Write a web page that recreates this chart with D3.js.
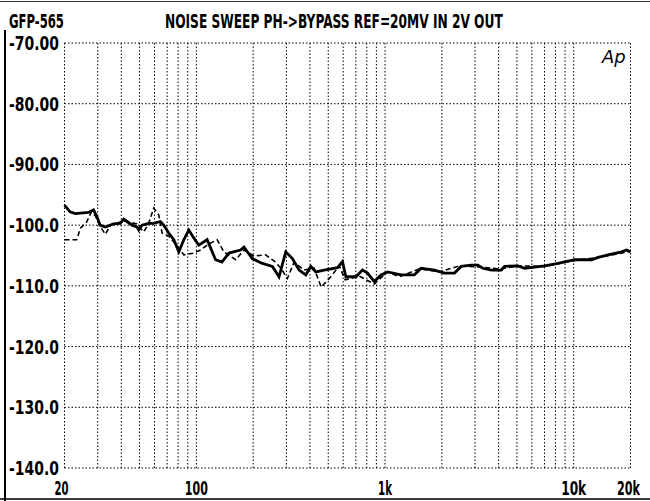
<!DOCTYPE html>
<html>
<head>
<meta charset="utf-8">
<script src="https://cdn.jsdelivr.net/npm/d3@7"></script>
<style>
  html, body { margin: 0; padding: 0; background: #fff; }
  svg { display: block; }
  .lbl { font-family: "DejaVu Sans Condensed", "Liberation Sans Narrow", sans-serif; font-weight: bold; fill: #000; }
</style>
</head>
<body>
<svg id="chart" width="650" height="501"></svg>
<script>
// ---- data ----
const chartId = "GFP-565";
const chartTitle = "NOISE SWEEP PH->BYPASS REF=20MV IN 2V OUT";
const yTickValues = [-70, -80, -90, -100, -110, -120, -130, -140];
const yTickLabels = ["-70.00", "-80.00", "-90.00", "-100.0", "-110.0", "-120.0", "-130.0", "-140.0"];
const xTickValues = [20, 100, 1000, 10000, 20000];
const xTickLabels = ["20", "100", "1k", "10k", "20k"];
const gridFreqs = [20, 30, 40, 50, 60, 70, 80, 90, 100, 200, 300, 400, 500, 600, 700, 800, 900,
                   1000, 2000, 3000, 4000, 5000, 6000, 7000, 8000, 9000, 10000, 20000];

// solid trace (Hz, dB)
const freqSolid = [20, 21.4, 22.8, 26.8, 28.5, 29.7, 30.9, 32.9, 36.4, 39.5, 41.2, 42.9, 45.6, 48.4, 49.5,
  51.5, 55.9, 59.4, 64.5, 67.1, 71.4, 75.9, 80.7, 85.8, 91.2, 96.9, 103, 114, 126.4, 136.6, 148.7,
  171.7, 178.7, 197.8, 223.6, 252.8, 274.2, 297.7, 322.8, 350.4, 380.2, 404.2, 429.7, 475.7, 559.8,
  594.8, 620.2, 701, 759.6, 808, 877, 952, 1032, 1215, 1430, 1552, 1826, 2064, 2334, 2532, 2862,
  3102, 3298, 3656, 4132, 4302, 5062, 5496, 6210, 7020, 8258, 10132, 12428, 13470, 15226, 17940,
  19070, 20000];
const dbSolid = [-96.7, -97.8, -98.1, -97.9, -97.5, -98.6, -100.0, -100.3, -99.8, -99.7, -99.0, -99.4, -100.0, -100.3, -100.8,
  -100.0, -99.7, -99.7, -99.4, -100.0, -101.3, -102.4, -104.4, -102.4, -100.8, -102.1, -103.3, -102.4, -105.7, -106.1, -104.6,
  -104.1, -103.6, -105.5, -106.3, -106.8, -108.5, -104.4, -105.5, -107.4, -108.2, -106.8, -107.7, -107.4, -107.0,
  -106.0, -108.5, -108.5, -107.4, -107.9, -109.3, -108.2, -107.7, -108.2, -108.2, -107.1, -107.4, -107.9, -107.9, -106.8, -106.6,
  -106.6, -107.1, -107.4, -107.4, -106.8, -106.7, -107.1, -106.9, -106.7, -106.3, -105.7, -105.7, -105.3, -104.9, -104.4,
  -104.1, -104.4];

// dashed trace (Hz, dB)
const freqDashed = [20, 23.2, 24.3, 26.2, 27.8, 29.2, 30.9, 32.9, 35.1, 41.2, 48.3, 52.6, 55.9, 59.4, 63.2,
  65.8, 71.4, 78.7, 85.8, 96.9, 105.2, 116.4, 128.9, 139.9, 161.5, 178.7, 202, 233, 258, 281, 303.5,
  329.6, 372.4, 420.9, 458.6, 516.3, 571.5, 614.8, 730, 877, 1030, 1191, 1521, 1942, 2480, 3170,
  4046, 5168, 7020, 10132, 13750, 20000];
const dbDashed = [-102.4, -102.4, -100.5, -99.5, -97.8, -98.5, -100.2, -101.5, -100.0, -99.3, -99.8, -101.1, -99.7, -97.2, -98.3,
  -101.3, -101.8, -103.3, -104.9, -104.6, -104.1, -103.1, -102.4, -104.4, -105.7, -104.1, -105.1, -104.9, -105.9, -107.1, -108.8,
  -106.1, -107.4, -107.1, -110.2, -108.5, -106.7, -109.0, -108.4, -109.7, -107.7, -108.5, -107.2, -107.7, -106.7, -106.9,
  -107.2, -106.7, -106.8, -105.8, -105.3, -104.3];

// ---- layout ----
const svg = d3.select("#chart");
const plotL = 64.5, plotR = 630.5, plotT = 43, plotB = 468;
const x = d3.scaleLog().domain([20, 20000]).range([plotL, plotR]);
const y = d3.scaleLinear().domain([-70, -140]).range([plotT, plotB]);

// draws a text starting at x0 (left edge), squeezed horizontally to width w
function fitText(parent, str, x0, yBase, w, size) {
  const t = parent.append("text").attr("class", "lbl")
    .attr("x", 0).attr("y", 0).attr("font-size", size).text(str);
  const natural = t.node().getComputedTextLength() || w;
  const sx = w / natural;
  t.attr("transform", `translate(${x0},${yBase}) scale(${sx},1)`);
  return t;
}

// scan frame
svg.append("line").attr("x1", 0).attr("x2", 650).attr("y1", 1.5).attr("y2", 1.5)
  .attr("stroke", "#333").attr("stroke-width", 1);
svg.append("line").attr("x1", 5).attr("x2", 5).attr("y1", 30).attr("y2", 501)
  .attr("stroke", "#000").attr("stroke-width", 2);
svg.append("line").attr("x1", 0).attr("x2", 650).attr("y1", 499).attr("y2", 499)
  .attr("stroke", "#000").attr("stroke-width", 1.5);

// grid
const grid = svg.append("g");
grid.selectAll("line.v").data(gridFreqs).enter().append("line")
  .attr("class", "v")
  .attr("x1", d => x(d)).attr("x2", d => x(d))
  .attr("y1", plotT).attr("y2", plotB)
  .attr("stroke", "#000").attr("stroke-width", 1)
  .attr("stroke-dasharray", "1.5,2");
grid.selectAll("line.h").data(yTickValues).enter().append("line")
  .attr("class", "h")
  .attr("x1", plotL).attr("x2", plotR)
  .attr("y1", d => y(d)).attr("y2", d => y(d))
  .attr("stroke", "#000").attr("stroke-width", 1)
  .attr("stroke-dasharray", "1.5,2");

// y labels
const yAxisG = svg.append("g");
yTickValues.forEach((v, i) => fitText(yAxisG, yTickLabels[i], 9, y(v) + 7, 50, 19));

// x labels
const xLabelWidths = [14, 23, 14, 25, 23];
const xAxisG = svg.append("g");
xTickValues.forEach((v, i) => {
  const w = xLabelWidths[i];
  const x0 = x(v) - w / 2 - (i === 0 ? 3 : 0) - (i === 4 ? 2 : 0);
  fitText(xAxisG, xTickLabels[i], x0, 495, w, 19);
});

// header
fitText(svg, chartId, 9, 28, 55, 20);
fitText(svg, chartTitle, 165, 28, 338, 20);

// Ap logo
svg.append("text").attr("x", 602).attr("y", 63)
  .attr("font-family", "DejaVu Sans, sans-serif").attr("font-style", "italic")
  .attr("font-size", 18).attr("fill", "#000")
  .text("Ap");

// traces
const solid = freqSolid.map((f, i) => [f, dbSolid[i]]);
const dashed = freqDashed.map((f, i) => [f, dbDashed[i]]);
const line = d3.line().x(d => x(d[0])).y(d => y(d[1]));

svg.append("path").datum(dashed)
  .attr("d", line).attr("fill", "none")
  .attr("stroke", "#000").attr("stroke-width", 1.6)
  .attr("stroke-dasharray", "5,3");
svg.append("path").datum(solid)
  .attr("d", line).attr("fill", "none")
  .attr("stroke", "#000").attr("stroke-width", 2.8)
  .attr("stroke-linejoin", "miter");
</script>
</body>
</html>
